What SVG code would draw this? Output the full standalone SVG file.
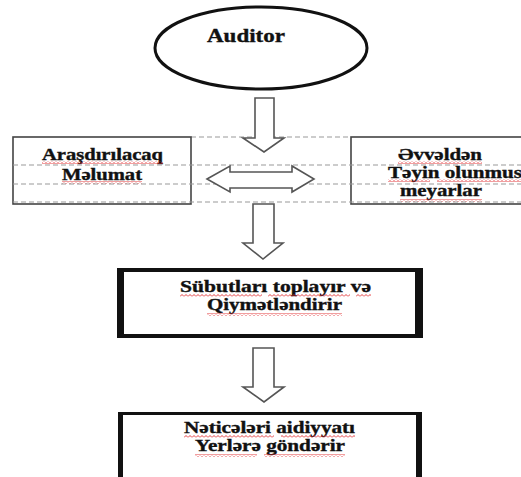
<svg xmlns="http://www.w3.org/2000/svg" width="521" height="477" viewBox="0 0 521 477">
<style>
.t{font-family:"Liberation Serif","Times New Roman",serif;font-weight:bold;fill:#111;stroke:#111;stroke-width:0.35;}
.dash{stroke:#9a9a9a;stroke-width:1.2;stroke-dasharray:5 3;fill:none;}
.arr{fill:#fff;stroke:#555;stroke-width:1.6;stroke-linejoin:miter;}
.thin{fill:#fff;stroke:#444;stroke-width:1.6;}
.sq{fill:url(#wave);}
</style>
<defs>
<pattern id="wave" patternUnits="userSpaceOnUse" width="4" height="3">
<path d="M0 2.5 L2 0.5 L4 2.5" fill="none" stroke="#e0282a" stroke-width="0.9"/>
</pattern>
</defs>
<rect width="521" height="477" fill="#fff"/>

<g id="guides">
<line class="dash" x1="191" y1="137" x2="351" y2="137"/>
</g>

<g id="node-auditor">
<ellipse cx="261" cy="48" rx="106" ry="41" fill="#fff" stroke="#111" stroke-width="3"/>
<text class="t" x="207" y="42" font-size="18" textLength="78" lengthAdjust="spacingAndGlyphs">Auditor</text>
</g>

<g id="node-melumat">
<rect class="thin" x="13" y="137" width="178" height="67"/>
<text class="t" x="42" y="160" font-size="16" textLength="121" lengthAdjust="spacingAndGlyphs">Araşdırılacaq</text>
<text class="t" x="62" y="180" font-size="16" textLength="80" lengthAdjust="spacingAndGlyphs">Məlumat</text>
<rect class="sq" x="42" y="161" width="121" height="3"/>
<rect class="sq" x="62" y="181" width="80" height="3"/>
</g>

<g id="node-meyarlar">
<rect class="thin" x="351" y="137" width="180" height="67"/>
<text class="t" x="398" y="160" font-size="16" textLength="84" lengthAdjust="spacingAndGlyphs">Əvvəldən</text>
<text class="t" x="388" y="178" font-size="16" textLength="134" lengthAdjust="spacingAndGlyphs">Təyin olunmus</text>
<text class="t" x="400" y="196" font-size="16" textLength="82" lengthAdjust="spacingAndGlyphs">meyarlar</text>
<rect class="sq" x="398" y="161" width="84" height="3"/>
<rect class="sq" x="388" y="179" width="42" height="3"/>
<rect class="sq" x="437" y="179" width="84" height="3"/>
<rect class="sq" x="400" y="199" width="82" height="3"/>
</g>

<g id="guides-over">
<line class="dash" x1="13" y1="165" x2="521" y2="165"/>
<line class="dash" x1="13" y1="184" x2="521" y2="184"/>
<line class="dash" x1="13" y1="202" x2="521" y2="202"/>
</g>

<g id="node-subutlar">
<rect x="117" y="268" width="306" height="70" fill="#111"/>
<rect x="124" y="272" width="291" height="62" fill="#fff"/>
<text class="t" x="180" y="292" font-size="16" textLength="191" lengthAdjust="spacingAndGlyphs">Sübutları toplayır və</text>
<text class="t" x="207" y="310" font-size="16" textLength="135" lengthAdjust="spacingAndGlyphs">Qiymətləndirir</text>
<rect class="sq" x="180" y="294" width="82" height="3"/>
<rect class="sq" x="268" y="294" width="82" height="3"/>
<rect class="sq" x="356" y="294" width="15" height="3"/>
<rect class="sq" x="207" y="313" width="135" height="3"/>
</g>

<g id="node-neticeler">
<rect x="118" y="412" width="304" height="70" fill="#111"/>
<rect x="123" y="415" width="293" height="70" fill="#fff"/>
<text class="t" x="184" y="433" font-size="16" textLength="171" lengthAdjust="spacingAndGlyphs">Nəticələri aidiyyatı</text>
<text class="t" x="195" y="451" font-size="16" textLength="150" lengthAdjust="spacingAndGlyphs">Yerlərə göndərir</text>
<rect class="sq" x="184" y="435" width="90" height="3"/>
<rect class="sq" x="281" y="435" width="74" height="3"/>
<rect class="sq" x="195" y="454" width="62" height="3"/>
<rect class="sq" x="264" y="454" width="81" height="3"/>
</g>

<g id="connectors">
<polygon class="arr" points="255,98 274,98 274,138 284,138 264,152 243,138 255,138"/>
<polygon class="arr" points="207,179 230,166 230,172 292,172 292,166 314,179 292,192 292,188 230,188 230,192"/>
<polygon class="arr" points="253,204 274,204 274,243 283,243 263,259 243,243 253,243"/>
<polygon class="arr" points="253,348 274,348 274,387 284,387 264,402 243,387 253,387"/>
</g>
</svg>
